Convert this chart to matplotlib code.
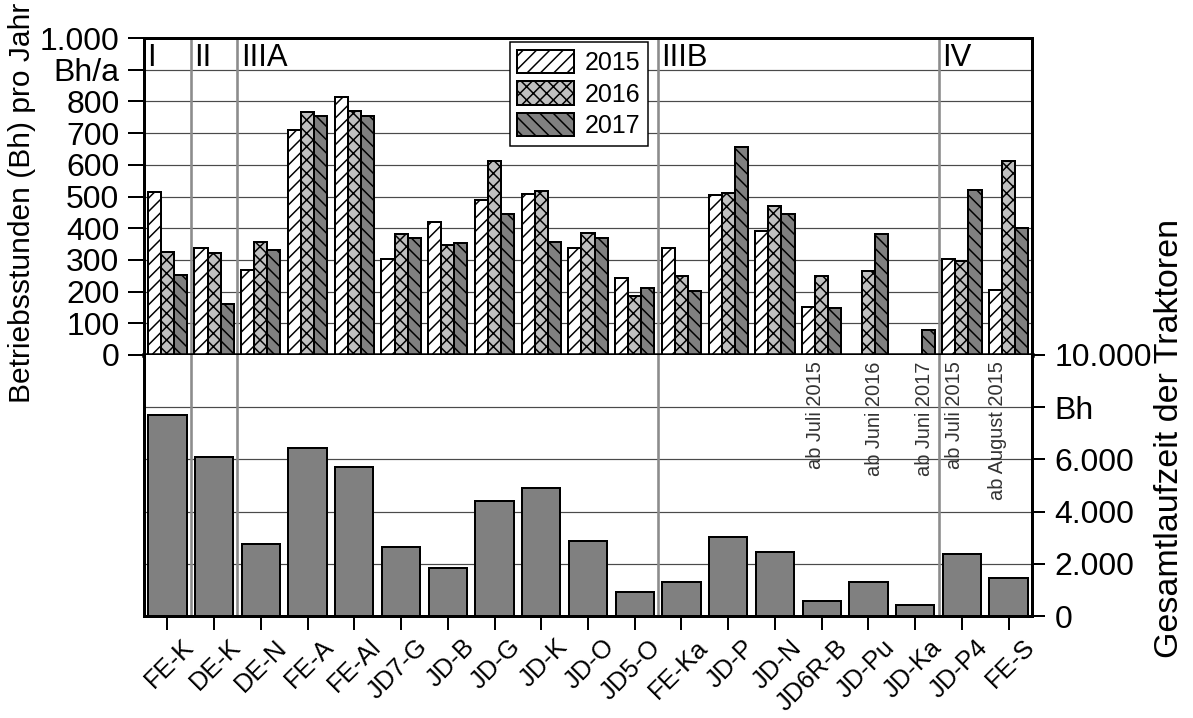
import matplotlib
matplotlib.use("Agg")
import matplotlib.pyplot as plt
import matplotlib.transforms as mtransforms
import numpy as np

# Traktoren und Betriebsstunden
traktoren = ["FE-K", "DE-K", "DE-N", "FE-A", "FE-Al", "JD7-G", "JD-B", "JD-G", "JD-K", "JD-O",
             "JD5-O", "FE-Ka", "JD-P", "JD-N", "JD6R-B", "JD-Pu", "JD-Ka", "JD-P4", "FE-S"]
jahre = ["2015", "2016", "2017"]
bh_2015 = [514, 339, 269, 710, 813, 304, 421, 488, 507, 338, 243, 337, 506, 390, 151, 0, 0, 302, 205]
bh_2016 = [324, 322, 355, 767, 769, 381, 346, 611, 516, 385, 186, 249, 511, 471, 250, 266, 0, 295, 611]
bh_2017 = [252, 161, 331, 753, 753, 368, 353, 445, 358, 369, 211, 202, 655, 445, 149, 382, 78, 521, 401]
gesamt = [7690, 6080, 2770, 6430, 5720, 2640, 1850, 4400, 4900, 2860,
          930, 1310, 3040, 2450, 570, 1310, 420, 2380, 1440]

# Gruppen und Hinweise
gruppen = ["I", "II", "IIIA", "IIIB", "IV"]
gruppen_start = [0, 1, 2, 11, 17]
hinweise = ["ab Juli 2015", "ab Juni 2016", "ab Juni 2017", "ab Juli 2015", "ab August 2015"]
hinweis_idx = [14, 15, 16, 17, 18]
hinweis_dx = [-0.14, 0.14, 0.19, -0.15, -0.23]

DPI = 80
PX = 72 / DPI  # Punkt pro Pixel

plt.rcParams["font.family"] = ["Liberation Sans", "DejaVu Sans"]
plt.rcParams["hatch.linewidth"] = 1.5 * PX

fig = plt.figure(figsize=(1193 / DPI, 718 / DPI), dpi=DPI)
W, H = 1193, 718
ax1 = fig.add_axes([144 / W, (H - 355) / H, 888 / W, 317 / H])
ax2 = fig.add_axes([144 / W, (H - 616) / H, 888 / W, 261 / H])

x = np.arange(len(traktoren))
fs = 32 * PX
grid_c = "#4a4a4a"
sep_c = "#8c8c8c"

# oben: Betriebsstunden pro Jahr
w = 0.28
stile = [("white", "//"), ("#c0c0c0", "xx"), ("#808080", "\\\\")]
for k, (werte, (farbe, muster)) in enumerate(zip([bh_2015, bh_2016, bh_2017], stile)):
    ax1.bar(x + (k - 1) * w, werte, width=w, color=farbe, edgecolor="black",
            hatch=muster, linewidth=2 * PX, zorder=3, label=jahre[k])

ax1.set_xlim(-0.5, len(traktoren) - 0.5)
ax1.set_ylim(0, 1000)
ax1.set_yticks(np.arange(0, 1001, 100))
ax1.set_yticklabels(["0", "100", "200", "300", "400", "500", "600", "700", "800", "Bh/a", "1.000"])
for yv in range(100, 1000, 100):
    ax1.axhline(yv, color=grid_c, lw=1.2 * PX, zorder=1)
ax1.set_xticks([])
ax1.tick_params(axis="y", direction="out", length=14, width=2 * PX, labelsize=fs, pad=9 * PX)
for s in ["left", "right", "top"]:
    ax1.spines[s].set_linewidth(3 * PX)
ax1.spines["bottom"].set_linewidth(4.5 * PX)
ax1.spines["bottom"].set_zorder(5)

leg = ax1.legend(loc="upper left", bbox_to_anchor=(0.412, 0.987), fontsize=25 * PX,
                 handlelength=2.25, handleheight=1.08, handletextpad=0.45,
                 labelspacing=0.25, borderpad=0.3, borderaxespad=0, fancybox=False,
                 framealpha=1, edgecolor="black")
leg.get_frame().set_linewidth(1.5 * PX)
leg.set_zorder(6)

# unten: Gesamtlaufzeit
ax2.bar(x, gesamt, width=0.82, color="#808080", edgecolor="black", linewidth=2 * PX, zorder=3)
ax2.set_xlim(-0.5, len(traktoren) - 0.5)
ax2.set_ylim(0, 10000)
for yv in range(2000, 10000, 2000):
    ax2.axhline(yv, color=grid_c, lw=1.2 * PX, zorder=1)
ax2.yaxis.tick_right()
ax2.set_yticks(np.arange(0, 10001, 2000))
ax2.set_yticklabels(["0", "2.000", "4.000", "6.000", "Bh", "10.000"])
ax2.tick_params(axis="y", direction="out", length=12, width=2 * PX, labelsize=fs, pad=9 * PX)
ax2.set_xticks(x)
ax2.set_xticklabels(traktoren, rotation=45, ha="right", va="top", rotation_mode="anchor")
ax2.tick_params(axis="x", direction="out", length=13, width=2 * PX, labelsize=25.5 * PX, pad=4)
verschiebung = mtransforms.ScaledTranslation(14 / DPI, 0, fig.dpi_scale_trans)
for lbl in ax2.get_xticklabels():
    lbl.set_transform(lbl.get_transform() + verschiebung)
for s in ["left", "right", "bottom"]:
    ax2.spines[s].set_linewidth(3 * PX)
ax2.spines["top"].set_visible(False)

# Gruppentrennlinien
for g in gruppen_start[1:]:
    for ax in (ax1, ax2):
        ax.axvline(g - 0.5, color=sep_c, lw=2.6 * PX, zorder=2)

trans = mtransforms.blended_transform_factory(ax1.transData, ax1.transAxes)
for name, g in zip(gruppen, gruppen_start):
    ax1.text(g - 0.5 + 0.07, 0.985, name, transform=trans, fontsize=31 * PX,
             ha="left", va="top", zorder=4)

for txt, i, dx in zip(hinweise, hinweis_idx, hinweis_dx):
    ax2.text(i + dx, 9750, txt, rotation=90, ha="center", va="top",
             fontsize=20 * PX, color="#333333", zorder=4)

fig.text(22 / W, 1 - 203 / H, "Betriebsstunden (Bh) pro Jahr", rotation=90,
         ha="center", va="center", fontsize=30 * PX)
fig.text(1170 / W, 1 - 438 / H, "Gesamtlaufzeit der Traktoren", rotation=90,
         ha="center", va="center", fontsize=34 * PX)

fig.savefig("out.png", dpi=DPI)
